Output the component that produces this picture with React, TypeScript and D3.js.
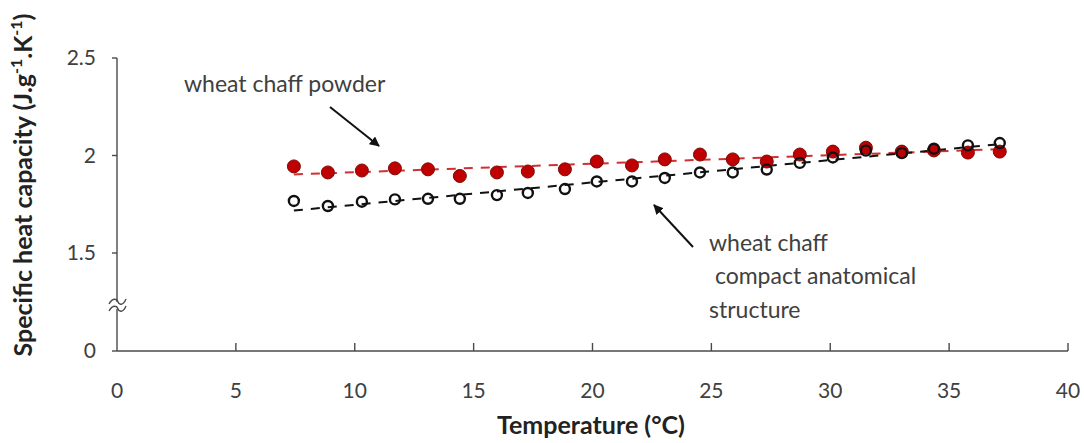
import React from "react";
import * as d3 from "d3";

// Temperature (°C) of each measurement
const temperatures = [
  7.44, 8.87, 10.3, 11.69, 13.08, 14.42, 15.98, 17.28, 18.84, 20.18, 21.66,
  23.04, 24.52, 25.9, 27.33, 28.72, 30.11, 31.5, 33.01, 34.36, 35.79, 37.13,
];

// Specific heat capacity (J.g-1.K-1), wheat chaff powder
const powderValues = [
  1.944, 1.913, 1.923, 1.934, 1.929, 1.895, 1.913, 1.918, 1.929, 1.969, 1.949,
  1.98, 2.005, 1.98, 1.969, 2.005, 2.02, 2.04, 2.02, 2.026, 2.015, 2.02,
];

// Specific heat capacity (J.g-1.K-1), wheat chaff with compact anatomical structure
const compactValues = [
  1.767, 1.741, 1.763, 1.775, 1.778, 1.778, 1.797, 1.808, 1.828, 1.867, 1.867,
  1.885, 1.913, 1.913, 1.928, 1.962, 1.99, 2.025, 2.012, 2.035, 2.052, 2.064,
];

const xTicks = [0, 5, 10, 15, 20, 25, 30, 35, 40];
const yTicks = [0, 1.5, 2, 2.5];

const W = 1084;
const H = 443;
const FONT = "Lato, 'Open Sans', sans-serif";
const TEXT = "#404040";
const AXIS = "#4a4a4a";

function fitLine(xs: number[], ys: number[]) {
  const mx = d3.mean(xs)!;
  const my = d3.mean(ys)!;
  let num = 0;
  let den = 0;
  xs.forEach((x, i) => {
    num += (x - mx) * (ys[i] - my);
    den += (x - mx) * (x - mx);
  });
  const slope = num / den;
  const intercept = my - slope * mx;
  return (x: number) => intercept + slope * x;
}

export default function App() {
  const x = d3.scaleLinear().domain([0, 40]).range([117, 1068]);
  // broken axis: 0 → 1.5 compressed into one interval
  const y = d3.scaleLinear().domain([0, 1.5, 2.5]).range([351, 253, 58]);

  const [tMin, tMax] = d3.extent(temperatures) as [number, number];
  const powderFit = fitLine(temperatures, powderValues);
  const compactFit = fitLine(temperatures, compactValues);

  const x0 = x(0);
  const yBase = y(0);
  const breakY = (y(1.5) + y(0)) / 2 + 4;

  const wave = (yy: number) =>
    `M${x0 - 8},${yy + 2} C${x0 - 4},${yy - 5} ${x0},${yy - 3} ${x0 + 1},${yy} S${x0 + 6},${yy + 4} ${x0 + 9},${yy - 3}`;

  return (
    <svg
      width={W}
      height={H}
      style={{ position: "absolute", left: 0, top: 0, background: "#fff" }}
      fontFamily={FONT}
    >
      {/* axes */}
      <line x1={x0} x2={x0} y1={y(2.5)} y2={yBase} stroke={AXIS} strokeWidth={1.4} />
      <line x1={x0} x2={x(40)} y1={yBase} y2={yBase} stroke={AXIS} strokeWidth={1.4} />
      {yTicks.map((t) => (
        <g key={"y" + t}>
          <line x1={x0 - 5} x2={x0} y1={y(t)} y2={y(t)} stroke={AXIS} strokeWidth={1.4} />
          <text x={x0 - 21} y={y(t)} dy="0.35em" textAnchor="end" fontSize={21} fill={TEXT}>
            {t}
          </text>
        </g>
      ))}
      {xTicks.map((t) => (
        <g key={"x" + t}>
          {t > 0 && (
            <line x1={x(t)} x2={x(t)} y1={yBase} y2={yBase - 8} stroke={AXIS} strokeWidth={1.4} />
          )}
          <text x={x(t)} y={398} textAnchor="middle" fontSize={21} fill={TEXT}>
            {t}
          </text>
        </g>
      ))}

      {/* axis break */}
      <rect x={x0 - 3} y={breakY - 4} width={6} height={7} fill="#fff" />
      <path d={wave(breakY - 4)} fill="none" stroke={AXIS} strokeWidth={1.4} />
      <path d={wave(breakY + 3)} fill="none" stroke={AXIS} strokeWidth={1.4} />

      {/* trend lines */}
      <line
        x1={x(tMin)}
        x2={x(tMax)}
        y1={y(powderFit(tMin))}
        y2={y(powderFit(tMax))}
        stroke="#d03030"
        strokeWidth={2}
        strokeDasharray="9,8"
      />
      <line
        x1={x(tMin)}
        x2={x(tMax)}
        y1={y(compactFit(tMin))}
        y2={y(compactFit(tMax))}
        stroke="#111"
        strokeWidth={2}
        strokeDasharray="9,8"
      />

      {/* markers */}
      {temperatures.map((t, i) => (
        <circle
          key={"p" + i}
          cx={x(t)}
          cy={y(powderValues[i])}
          r={6.5}
          fill="#c00000"
          stroke="#7a0a0a"
          strokeWidth={1}
        />
      ))}
      {temperatures.map((t, i) => (
        <circle
          key={"c" + i}
          cx={x(t)}
          cy={y(compactValues[i])}
          r={5}
          fill="none"
          stroke="#111"
          strokeWidth={2.4}
        />
      ))}

      {/* annotations */}
      <defs>
        <marker id="arrowHead" viewBox="0 0 10 10" refX={9} refY={5} markerWidth={5} markerHeight={5} orient="auto">
          <path d="M0,0 L10,5 L0,10 z" fill="#111" />
        </marker>
      </defs>
      <text x={184} y={92} fontSize={23} fill={TEXT}>
        wheat chaff powder
      </text>
      <line x1={330} y1={107} x2={379} y2={146} stroke="#111" strokeWidth={2} markerEnd="url(#arrowHead)" />

      <line x1={693} y1={247} x2={654} y2={205} stroke="#111" strokeWidth={2} markerEnd="url(#arrowHead)" />
      <text x={709} y={251} fontSize={23} fill={TEXT}>
        wheat chaff
      </text>
      <text x={709} y={284} fontSize={23} fill={TEXT} xmlSpace="preserve">
        {" compact anatomical"}
      </text>
      <text x={709} y={318} fontSize={23} fill={TEXT}>
        structure
      </text>

      {/* axis titles */}
      <text x={591} y={434} textAnchor="middle" fontSize={25} fontWeight="bold" fill="#222">
        Temperature (°C)
      </text>
      <text
        transform={`translate(32,185) rotate(-90)`}
        textAnchor="middle"
        fontSize={25}
        fontWeight="bold"
        fill="#222"
      >
        Specific heat capacity (J.g
        <tspan fontSize={16} dy={-10}>-1</tspan>
        <tspan dy={10}>.K</tspan>
        <tspan fontSize={16} dy={-10}>-1</tspan>
        <tspan dy={10}>)</tspan>
      </text>
    </svg>
  );
}
